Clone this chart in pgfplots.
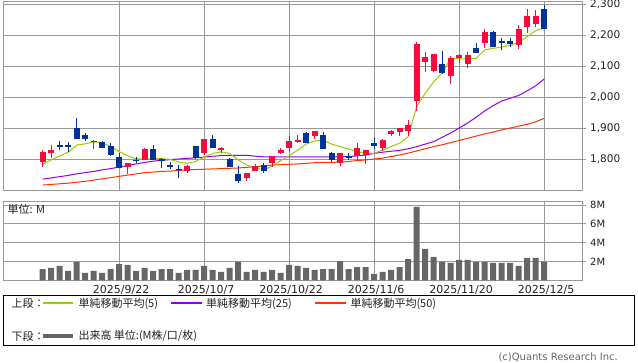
\documentclass[border=0pt]{standalone}
\usepackage{pgfplots}
\pgfplotsset{compat=1.18}
\usepackage{pgfplotstable}
\usepackage{fontspec}
\setmainfont{DejaVu Sans}
\newfontfamily\cjk{Noto Sans CJK JP}
\definecolor{cred}{RGB}{250,10,60}
\definecolor{cblue}{RGB}{0,51,153}
\definecolor{maFive}{RGB}{153,204,0}
\definecolor{maTwentyFive}{RGB}{145,0,240}
\definecolor{maFifty}{RGB}{255,51,0}
\definecolor{gridc}{RGB}{153,153,153}
\definecolor{volc}{RGB}{102,102,102}
\definecolor{txt}{RGB}{34,34,34}

\pgfplotstableread{
i o h l c
0 1791 1829 1773 1824
1 1820 1844 1804 1829
6 1855 1861 1832 1859
10 1775 1787 1753 1787
12 1797 1835 1797 1832
17 1761 1781 1756 1777
19 1818 1864 1813 1864
21 1831 1840 1820 1835
24 1738 1754 1729 1754
25 1762 1784 1762 1777
27 1788 1810 1775 1810
28 1820 1837 1815 1829
29 1836 1874 1824 1858
30 1857 1877 1851 1860
32 1875 1890 1865 1890
35 1788 1820 1777 1820
37 1810 1851 1795 1834
38 1813 1829 1783 1829
40 1834 1863 1827 1861
41 1881 1894 1874 1890
42 1886 1899 1874 1899
43 1890 1926 1874 1910
44 1988 2176 1956 2171
45 2114 2145 2082 2128
46 2085 2139 2082 2139
48 2069 2133 2041 2127
49 2125 2140 2109 2135
50 2105 2146 2093 2135
52 2173 2218 2157 2209
56 2167 2232 2155 2218
57 2227 2285 2207 2261
58 2235 2281 2227 2261
}\upT

\pgfplotstableread{
i o h l c
2 1843 1858 1829 1843
3 1843 1856 1824 1843
4 1899 1932 1866 1866
5 1877 1885 1859 1865
7 1856 1859 1836 1836
8 1843 1851 1811 1814
9 1806 1820 1770 1770
11 1796 1805 1786 1796
13 1832 1844 1797 1797
14 1797 1804 1770 1797
15 1778 1791 1767 1778
16 1767 1781 1740 1767
18 1842 1843 1800 1802
20 1864 1877 1834 1834
22 1800 1802 1775 1775
23 1752 1777 1721 1730
26 1781 1786 1754 1761
31 1885 1887 1853 1853
33 1877 1887 1831 1833
34 1820 1824 1791 1797
36 1808 1820 1797 1808
39 1851 1867 1831 1843
47 2105 2148 2074 2076
51 2157 2173 2141 2143
53 2209 2214 2160 2160
54 2178 2189 2152 2178
55 2181 2189 2160 2170
59 2283 2297 2220 2220
}\downT

\pgfplotstableread{
i m5 m25 m50
0 1783 1735 1716
1 1797 1739 1718
2 1810 1743 1720
3 1822 1747 1722
4 1845 1752 1725
5 1849 1756 1728
6 1855 1760 1732
7 1853 1765 1736
8 1840 1769 1740
9 1824 1774 1744
10 1810 1779 1748
11 1801 1784 1752
12 1800 1789 1756
13 1801 1793 1758
14 1801 1796 1760
15 1799 1798 1761
16 1790 1800 1763
17 1786 1802 1765
18 1792 1804 1766
19 1806 1806 1767
20 1818 1809 1768
21 1823 1811 1769
22 1818 1812 1770
23 1797 1812 1771
24 1781 1812 1773
25 1772 1809 1775
26 1765 1807 1778
27 1777 1807 1780
28 1795 1807 1782
29 1810 1807 1783
30 1829 1807 1784
31 1848 1807 1786
32 1858 1807 1788
33 1861 1807 1789
34 1848 1807 1789
35 1840 1807 1790
36 1832 1808 1792
37 1824 1810 1795
38 1818 1813 1797
39 1818 1818 1800
40 1829 1822 1803
41 1840 1825 1808
42 1851 1828 1813
43 1872 1833 1819
44 1969 1840 1826
45 2012 1848 1833
46 2049 1856 1840
47 2078 1870 1846
48 2125 1884 1853
49 2123 1900 1860
50 2123 1916 1867
51 2125 1935 1874
52 2152 1955 1881
53 2157 1972 1887
54 2161 1987 1894
55 2167 1996 1900
56 2175 2005 1906
57 2195 2020 1912
58 2214 2036 1920
59 2223 2058 1931
}\maT

\pgfplotstableread{
i v
0 1.20
1 1.31
2 1.52
3 0.99
4 1.95
5 0.78
6 0.99
7 0.78
8 1.20
9 1.73
10 1.63
11 0.99
12 1.31
13 0.99
14 1.20
15 1.20
16 0.78
17 1.10
18 1.10
19 1.52
20 1.10
21 0.89
22 1.31
23 1.95
24 0.89
25 1.10
26 0.89
27 1.10
28 0.78
29 1.63
30 1.52
31 1.31
32 1.10
33 1.20
34 1.20
35 2.05
36 1.20
37 1.41
38 1.41
39 0.67
40 0.89
41 1.10
42 1.41
43 2.26
44 7.80
45 3.33
46 2.48
47 1.95
48 1.84
49 2.16
50 2.16
51 1.95
52 1.95
53 1.84
54 1.84
55 1.84
56 1.52
57 2.37
58 2.37
59 1.95
}\volT

\pgfplotsset{
  chartbase/.style={
    scale only axis,
    width=579.4pt,
    xmin=-4.635, xmax=63.53,
    axis line style={draw=gridc, line width=0.9pt},
    grid=major,
    grid style={draw=gridc, line width=0.9pt},
    xtick={9,19,29,39,49,59},
    xtick style={draw=none},
    ytick pos=right,
    yticklabel pos=right,
    ytick style={draw=gridc, line width=0.9pt},
    tick align=outside,
    major tick length=3pt,
    /pgf/number format/assume math mode=true,
    clip=true,
  },
  candle/.style 2 args={draw=none, mark=none, forget plot,
    error bars/.cd, y dir=both, y explicit, error mark=none,
    error bar style={draw=#1, line width=#2}},
}

\begin{document}
\begin{tikzpicture}[x=1pt,y=1pt]
\path[use as bounding box] (0pt,0pt) rectangle (638pt,362pt);

% price panel
\begin{axis}[chartbase,
  at={(3.3pt,361pt)}, anchor=north west,
  height=189pt,
  ymin=1700, ymax=2309.7,
  ytick={1800,1900,2000,2100,2200,2300},
  xticklabels={},
  yticklabel style={font=\fontsize{10.5}{12}\selectfont, text=txt, xshift=1pt},
  /pgf/number format/.cd, 1000 sep={,},
]
\addplot[draw=maFifty, line width=1pt, mark=none] table[x=i, y=m50] {\maT};
\addplot[draw=maTwentyFive, line width=1pt, mark=none] table[x=i, y=m25] {\maT};
\addplot[draw=maFive, line width=1pt, mark=none] table[x=i, y=m5] {\maT};
% wicks
\addplot[candle={cred}{1.2pt}]
  table[x=i, y expr={(\thisrow{h}+\thisrow{l})/2}, y error expr={(\thisrow{h}-\thisrow{l})/2}] {\upT};
\addplot[candle={cblue}{1.2pt}]
  table[x=i, y expr={(\thisrow{h}+\thisrow{l})/2}, y error expr={(\thisrow{h}-\thisrow{l})/2}] {\downT};
% bodies
\addplot[candle={cred}{6pt}]
  table[x=i, y expr={(\thisrow{o}+\thisrow{c})/2}, y error expr={max(abs(\thisrow{c}-\thisrow{o})/2,1.7)}] {\upT};
\addplot[candle={cblue}{6pt}]
  table[x=i, y expr={(\thisrow{o}+\thisrow{c})/2}, y error expr={max(abs(\thisrow{c}-\thisrow{o})/2,1.7)}] {\downT};
\end{axis}

% volume panel
\begin{axis}[chartbase,
  at={(3.3pt,160.3pt)}, anchor=north west,
  height=78.6pt,
  ymin=0, ymax=8.35,
  ytick={2,4,6,8},
  yticklabels={2M,4M,6M,8M},
  yticklabel style={font=\fontsize{10}{12}\selectfont, text=txt, xshift=1pt},
  xticklabels={2025/9/22,2025/10/7,2025/10/22,2025/11/6,2025/11/20,2025/12/5},
  xticklabel style={font=\fontsize{11}{12}\selectfont, text=txt, xshift=2pt, yshift=1pt},
]
\addplot[ybar, bar width=6pt, fill=volc, draw=none] table[x=i, y=v] {\volT};
\end{axis}

\node[anchor=west, font=\cjk\fontsize{11}{12}\selectfont, text=txt, inner sep=0pt] at (7.5pt,152.7pt) {単位: M};

% legend box
\draw[draw=black, line width=1pt] (3.3pt,66pt) rectangle (634.7pt,16.3pt);
\begin{scope}
\color{maFive}
\draw[line width=1.6pt] (43.3pt,58.7pt) -- (73.3pt,58.7pt);
\end{scope}
\begin{scope}
\color{maTwentyFive}
\draw[line width=1.6pt] (171pt,58.7pt) -- (201.7pt,58.7pt);
\end{scope}
\begin{scope}
\color{maFifty}
\draw[line width=1.6pt] (315pt,58.7pt) -- (345.7pt,58.7pt);
\end{scope}
\begin{scope}
\color{volc}
\draw[line width=3.6pt] (43.3pt,26pt) -- (73.3pt,26pt);
\end{scope}
\node[anchor=west, font=\cjk\fontsize{11}{12}\selectfont, text=txt, inner sep=0pt] at (11.5pt,58.5pt) {上段：};
\node[anchor=west, font=\cjk\fontsize{11}{12}\selectfont, text=txt, inner sep=0pt] at (78.3pt,58.5pt) {単純移動平均(5)};
\node[anchor=west, font=\cjk\fontsize{11}{12}\selectfont, text=txt, inner sep=0pt] at (206pt,58.5pt) {単純移動平均(25)};
\node[anchor=west, font=\cjk\fontsize{11}{12}\selectfont, text=txt, inner sep=0pt] at (350.3pt,58.5pt) {単純移動平均(50)};
\node[anchor=west, font=\cjk\fontsize{11}{12}\selectfont, text=txt, inner sep=0pt] at (11.5pt,26pt) {下段：};
\node[anchor=west, font=\cjk\fontsize{11}{12}\selectfont, text=txt, inner sep=0pt] at (78.3pt,26pt) {出来高 単位:(M株/口/枚)};

\node[anchor=east, font=\fontsize{10}{12}\selectfont, text=volc, inner sep=0pt] at (618pt,4.5pt) {(c)Quants Research Inc.};
\end{tikzpicture}
\end{document}
